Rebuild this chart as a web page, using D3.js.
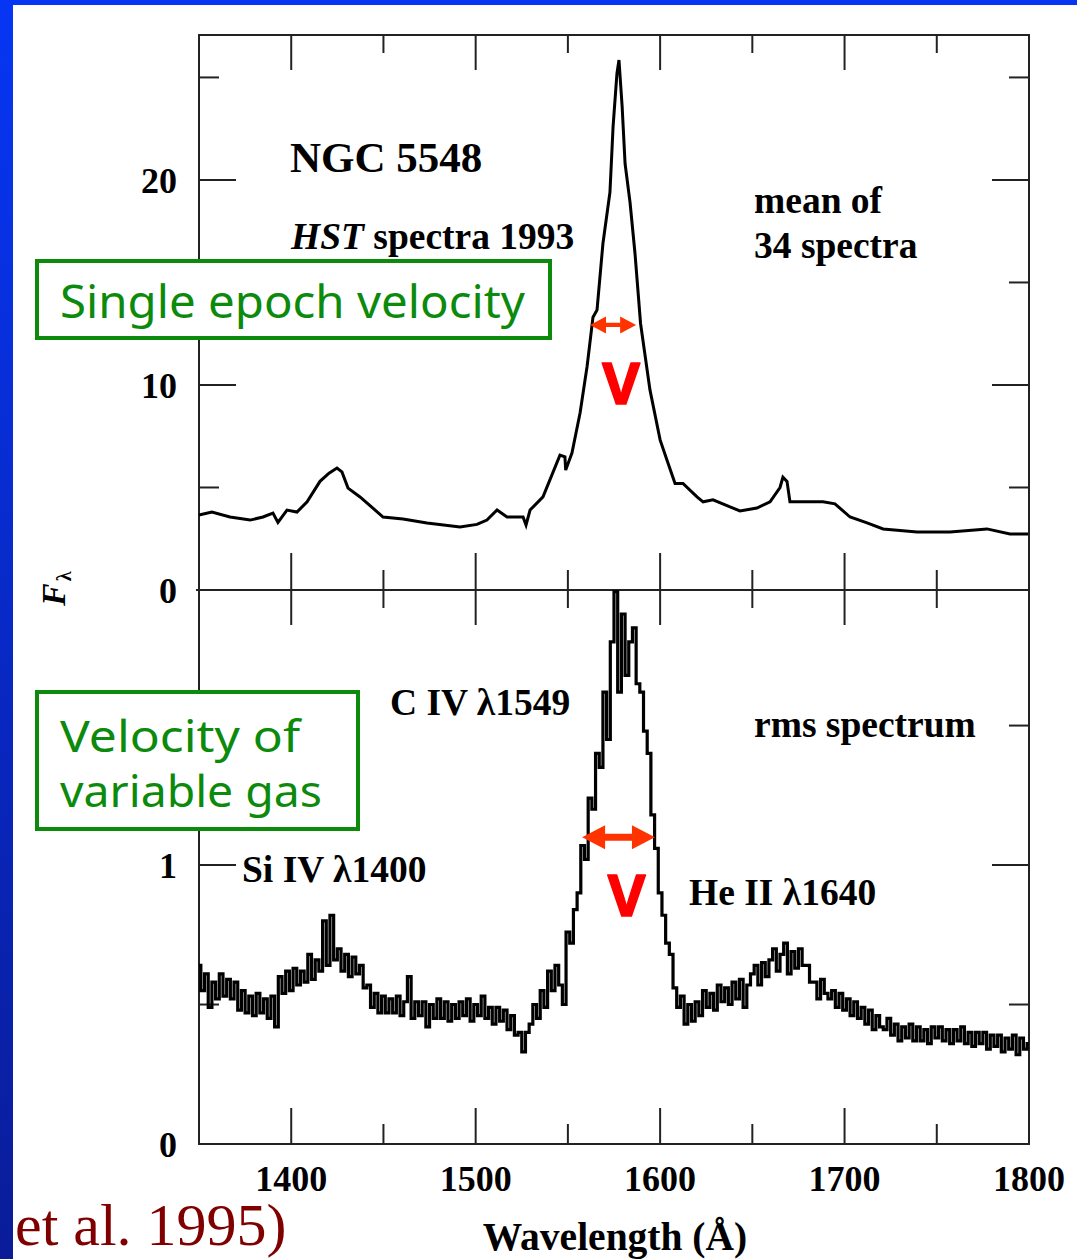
<!DOCTYPE html>
<html><head><meta charset="utf-8">
<script src="https://cdn.jsdelivr.net/npm/d3@7"></script>
<style>html,body{margin:0;padding:0;background:#fff;overflow:hidden;} svg{display:block;}</style>
</head><body>
<svg id="c" width="1077" height="1259"></svg>
<script>
// ---------------- DATA ----------------
// mean spectrum (top panel): wavelength (Å) and flux
const meanWave = [1350,1357,1366.8,1377.7,1384.7,1390.1,1392.8,1397.7,1403.1,1408.6,1415.6,1420.5,1424.8,1427.5,1430.8,1437.3,1449.8,1460.6,1473.6,1491.5,1500.7,1506.1,1511.6,1517,1525.7,1527.3,1529.5,1536.5,1545.7,1548.4,1548.8,1552.2,1556.6,1560.4,1563.6,1565.8,1569,1572.8,1574.5,1576.6,1577.7,1579.4,1581,1583.7,1586.4,1589.4,1594.5,1600,1603.7,1608.1,1612.4,1620,1623.3,1628.7,1637.9,1643.3,1652.5,1659.6,1665,1666.6,1668.8,1670.4,1677.5,1688.3,1694.8,1703,1712.2,1720.9,1739.3,1757.2,1777.2,1789.7,1799.5];
const meanFlux = [3.66,3.8,3.56,3.41,3.56,3.75,3.3,3.9,3.8,4.3,5.3,5.7,5.95,5.76,4.97,4.54,3.56,3.46,3.27,3.07,3.2,3.41,3.9,3.56,3.56,3.17,3.9,4.54,6.58,6.49,5.85,6.68,8.63,10.9,13.3,13.66,16.9,19.4,22.6,25.2,25.85,23.6,20.8,18.9,16.4,13.0,9.76,7.32,6.34,5.2,5.2,4.54,4.3,4.4,4.05,3.86,4.0,4.3,5.0,5.5,5.3,4.3,4.3,4.3,4.2,3.56,3.27,2.98,2.83,2.83,2.98,2.73,2.73];

// rms spectrum (bottom panel): sampled every 2 Å from 1350 to 1800
const rmsWave = d3.range(1350, 1801, 2);
const rmsFlux = [
 0.64,0.55,0.61,0.49,0.58,0.52,0.61,0.53,0.59,0.52,
 0.58,0.48,0.55,0.47,0.53,0.46,0.54,0.47,0.52,0.45,
 0.53,0.42,0.60,0.54,0.62,0.55,0.63,0.57,0.62,0.58,
 0.68,0.59,0.66,0.62,0.80,0.64,0.82,0.66,0.70,0.62,
 0.68,0.60,0.67,0.61,0.64,0.56,0.57,0.49,0.54,0.47,
 0.53,0.47,0.52,0.47,0.53,0.46,0.51,0.60,0.45,0.51,
 0.46,0.51,0.42,0.50,0.45,0.52,0.45,0.51,0.44,0.50,
 0.45,0.51,0.46,0.52,0.44,0.50,0.46,0.53,0.45,0.49,
 0.43,0.49,0.44,0.48,0.41,0.46,0.39,0.40,0.33,0.40,
 0.43,0.50,0.45,0.55,0.49,0.62,0.55,0.64,0.57,0.50,
 0.76,0.72,0.84,0.90,1.07,1.02,1.24,1.20,1.40,1.35,
 1.62,1.45,1.80,1.98,1.62,1.90,1.68,1.80,1.85,1.65,
 1.62,1.48,1.40,1.18,1.06,0.90,0.82,0.72,0.68,0.56,
 0.49,0.53,0.43,0.50,0.44,0.51,0.46,0.55,0.49,0.54,
 0.48,0.57,0.51,0.56,0.50,0.58,0.52,0.59,0.49,0.57,
 0.61,0.64,0.57,0.65,0.60,0.66,0.70,0.62,0.68,0.72,
 0.61,0.69,0.63,0.70,0.64,0.64,0.58,0.58,0.52,0.59,
 0.54,0.52,0.55,0.49,0.54,0.48,0.52,0.46,0.51,0.45,
 0.49,0.43,0.48,0.41,0.46,0.42,0.41,0.45,0.39,0.43,
 0.37,0.42,0.38,0.43,0.37,0.42,0.37,0.41,0.36,0.42,
 0.38,0.42,0.37,0.41,0.36,0.41,0.37,0.42,0.36,0.40,
 0.35,0.40,0.36,0.40,0.34,0.39,0.35,0.39,0.33,0.38,
 0.34,0.39,0.32,0.38,0.34,0.36
];

// axes
const xMajorTicks = [1400,1500,1600,1700,1800];
const xMinorTicks = [1450,1550,1650,1750];
const xTickLabels = ["1400","1500","1600","1700","1800"];
const topMajorTicks = [10,20];
const topMinorTicks = [5,15,25];
const topTickLabels = ["0","10","20"];
const topLabelValues = [0,10,20];
const botMajorTicks = [1];
const botMinorTicks = [0.5,1.5];
const botTickLabels = ["0","1"];
const botLabelValues = [0,1];

// width markers (FWHM arrows): [lambda1, lambda2, flux]
const topArrow = [1562.0, 1587.0, 12.93];
const botArrow = [1557.7, 1597.2, 1.10];

// ---------------- DRAW ----------------
const svg = d3.select("#c");
const W = 1077, H = 1259;
const defs = svg.append("defs");
const g = defs.append("linearGradient").attr("id","bg").attr("x1",0).attr("y1",0).attr("x2",0).attr("y2",1);
g.append("stop").attr("offset","0%").attr("stop-color","#0636f4");
g.append("stop").attr("offset","100%").attr("stop-color","#0a1c98");
svg.append("rect").attr("width",W).attr("height",H).attr("fill","url(#bg)");
svg.append("rect").attr("x",13).attr("y",5).attr("width",W-13).attr("height",H-5).attr("fill","#fff");

const L = 199, R = 1029, T = 35, M = 590, B = 1144;
const x = d3.scaleLinear().domain([1350,1800]).range([L,R]);
const yTop = d3.scaleLinear().domain([0,27.07]).range([M,T]);
const yBot = d3.scaleLinear().domain([0,1.986]).range([B,M]);

const axisCol = "#222";
const ax = svg.append("g").attr("stroke",axisCol).attr("stroke-width",2).attr("fill","none");
ax.append("path").attr("d",`M${L},${T}H${R}V${B}H${L}Z`);
ax.append("path").attr("d",`M${L-3},${M}H${R}`);
const seg = (x1,y1,x2,y2)=>ax.append("line").attr("x1",x1).attr("y1",y1).attr("x2",x2).attr("y2",y2);
xMajorTicks.forEach(v=>{ const px=x(v); if(v<1800){ seg(px,T,px,T+35); seg(px,M-37,px,M+35); seg(px,B,px,B-36);} });
xMinorTicks.forEach(v=>{ const px=x(v); seg(px,T,px,T+18); seg(px,M-20,px,M+18); seg(px,B,px,B-20); });
topMajorTicks.forEach(v=>{ const py=yTop(v); seg(L,py,L+37,py); seg(R,py,R-37,py); });
topMinorTicks.forEach(v=>{ const py=yTop(v); seg(L,py,L+20,py); seg(R,py,R-20,py); });
botMajorTicks.forEach(v=>{ const py=yBot(v); seg(L,py,L+37,py); seg(R,py,R-37,py); });
botMinorTicks.forEach(v=>{ const py=yBot(v); seg(L,py,L+20,py); seg(R,py,R-20,py); });

const serif = "'Liberation Serif','Times New Roman',serif";
const lab = svg.append("g").attr("font-family",serif).attr("font-weight","bold").attr("fill","#000");
xMajorTicks.forEach((v,i)=>{
  lab.append("text").attr("x",x(v)).attr("y",1191).attr("text-anchor","middle").attr("font-size",36).text(xTickLabels[i]);
});
topLabelValues.forEach((v,i)=>{
  lab.append("text").attr("x",177).attr("y",yTop(v)+1).attr("text-anchor","end").attr("dominant-baseline","central").attr("font-size",36).text(topTickLabels[i]);
});
botLabelValues.forEach((v,i)=>{
  lab.append("text").attr("x",177).attr("y",yBot(v)+1).attr("text-anchor","end").attr("dominant-baseline","central").attr("font-size",36).text(botTickLabels[i]);
});
lab.append("text").attr("x",615).attr("y",1250).attr("text-anchor","middle").attr("font-size",39.5).text("Wavelength (Å)");
const yl = lab.append("text").attr("transform","translate(65,606) rotate(-90)").attr("font-size",34);
yl.append("tspan").attr("font-style","italic").text("F");
yl.append("tspan").attr("font-size",20).attr("dy",6).attr("dx",2).text("λ");

const AF = 37.5;
lab.append("text").attr("x",290).attr("y",172).attr("font-size",43).text("NGC 5548");
const hst = lab.append("text").attr("x",291).attr("y",249).attr("font-size",AF);
hst.append("tspan").attr("font-style","italic").text("HST");
hst.append("tspan").text(" spectra 1993");
lab.append("text").attr("x",754).attr("y",213).attr("font-size",AF).text("mean of");
lab.append("text").attr("x",754).attr("y",258).attr("font-size",AF).text("34 spectra");
lab.append("text").attr("x",390).attr("y",715).attr("font-size",AF).text("C IV λ1549");
lab.append("text").attr("x",754).attr("y",737).attr("font-size",AF).text("rms spectrum");
lab.append("text").attr("x",242).attr("y",882).attr("font-size",AF).text("Si IV λ1400");
lab.append("text").attr("x",689).attr("y",905).attr("font-size",AF).text("He II λ1640");

// spectra
const lineTop = d3.line().x((d,i)=>x(meanWave[i])).y(d=>yTop(d));
svg.append("path").attr("d",lineTop(meanFlux)).attr("fill","none").attr("stroke","#000").attr("stroke-width",3);
const lineBot = d3.line().curve(d3.curveStep).x((d,i)=>x(rmsWave[i])).y(d=>yBot(d));
svg.append("path").attr("d",lineBot(rmsFlux)).attr("fill","none").attr("stroke","#000").attr("stroke-width",3.2);

// green boxes
const green = "#0b8a0b";
const comic = "'Comic Sans MS','Noto Sans',sans-serif";
svg.append("rect").attr("x",37).attr("y",261).attr("width",513).attr("height",77).attr("fill","#fff").attr("stroke",green).attr("stroke-width",4);
svg.append("text").attr("x",60).attr("y",318).attr("font-family",comic).attr("font-size",46).attr("fill",green)
  .attr("textLength",465).attr("lengthAdjust","spacingAndGlyphs").text("Single epoch velocity");
svg.append("rect").attr("x",37).attr("y",692).attr("width",321).attr("height",137).attr("fill","#fff").attr("stroke",green).attr("stroke-width",4);
svg.append("text").attr("x",60).attr("y",752).attr("font-family",comic).attr("font-size",43).attr("fill",green)
  .attr("textLength",240).attr("lengthAdjust","spacingAndGlyphs").text("Velocity of");
svg.append("text").attr("x",60).attr("y",807).attr("font-family",comic).attr("font-size",43).attr("fill",green)
  .attr("textLength",262).attr("lengthAdjust","spacingAndGlyphs").text("variable gas");

// red double arrows + V
function dblArrow(a, yS, headLen, headHalf, shaftHalf){
  const x1 = x(a[0]), x2 = x(a[1]), yy = yS(a[2]);
  const p = [[x1,yy],[x1+headLen,yy-headHalf],[x1+headLen,yy-shaftHalf],[x2-headLen,yy-shaftHalf],[x2-headLen,yy-headHalf],
             [x2,yy],[x2-headLen,yy+headHalf],[x2-headLen,yy+shaftHalf],[x1+headLen,yy+shaftHalf],[x1+headLen,yy+headHalf]];
  svg.append("path").attr("d","M"+p.map(q=>q.join(",")).join("L")+"Z").attr("fill","#ff3300");
  return (x1+x2)/2;
}
const cx1 = dblArrow(topArrow, yTop, 16, 8.5, 2.2);
const cx2 = dblArrow(botArrow, yBot, 23, 12, 3.5);
[[cx1, 404],[cx2, 916]].forEach(([cx,by])=>{
  svg.append("text").attr("x",cx+8).attr("y",by).attr("text-anchor","middle").attr("font-family","'Noto Sans',sans-serif")
    .attr("font-weight","bold").attr("font-size",58).attr("fill","#ff0000").attr("stroke","#ff0000").attr("stroke-width",1.5).attr("stroke-linejoin","round").text("V");
});

// citation fragment
svg.append("text").attr("x",15).attr("y",1245).attr("font-family",serif).attr("font-size",60).attr("fill","#800000").text("et al. 1995)");
</script>
</body></html>
